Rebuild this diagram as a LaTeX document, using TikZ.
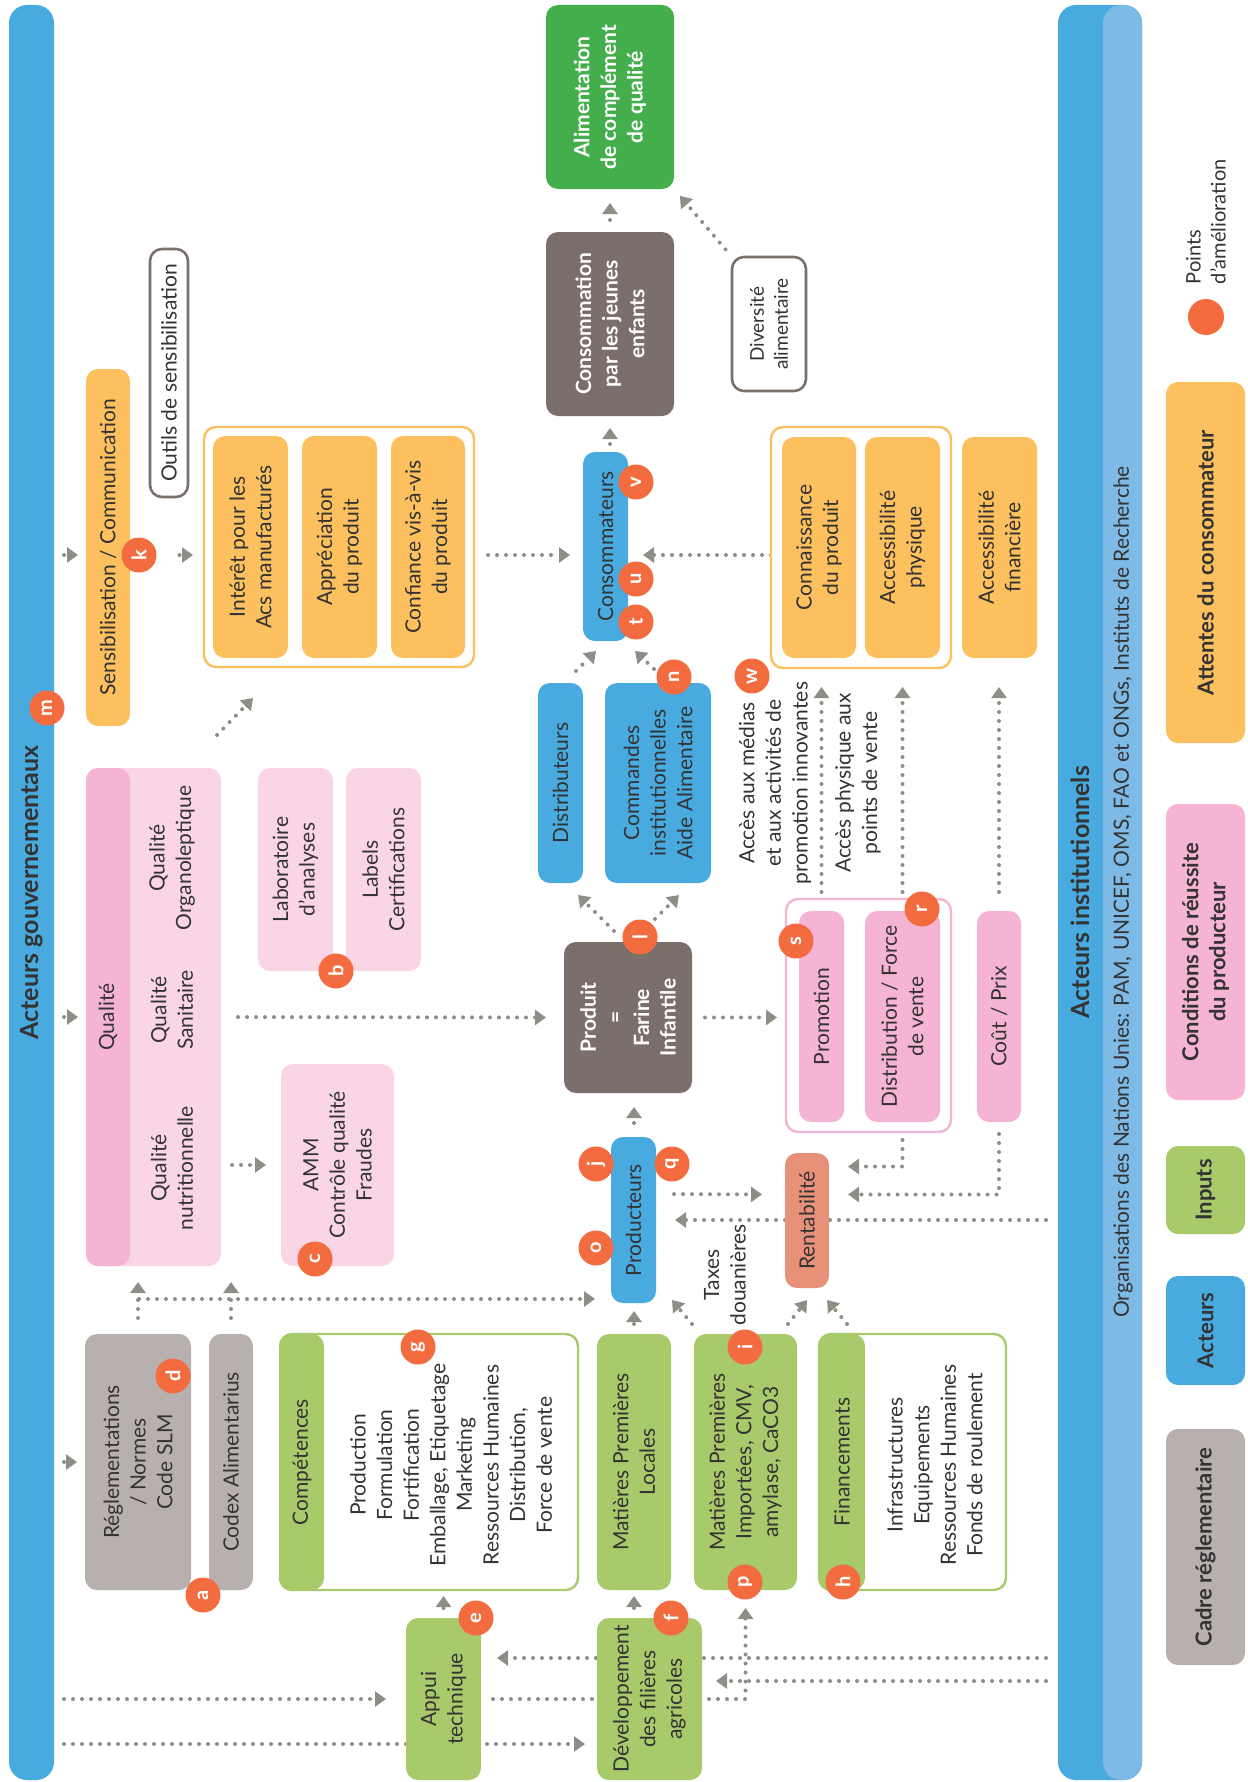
\documentclass[tikz,border=0pt]{standalone}
\usepackage{fontspec}
\setmainfont{Lato}
\usetikzlibrary{arrows.meta}

\definecolor{ink}{HTML}{333333}
\definecolor{cblue}{HTML}{49AADF}
\definecolor{clight}{HTML}{7EBAE6}
\definecolor{cgray}{HTML}{B8B0AE}
\definecolor{cdark}{HTML}{7A6F6B}
\definecolor{cgreen}{HTML}{A8CA6B}
\definecolor{cdgreen}{HTML}{44AE4C}
\definecolor{cpink}{HTML}{F5B4D3}
\definecolor{clpink}{HTML}{FAD5E6}
\definecolor{cyellow}{HTML}{FCC05F}
\definecolor{corange}{HTML}{F26C40}
\definecolor{csalmon}{HTML}{E8917A}
\definecolor{cline}{HTML}{7A706C}
\definecolor{carrow}{HTML}{8E8D86}

\newcommand\bodyfont{\fontsize{10.5}{13.3}\selectfont}
\newcommand\headfont{\fontsize{12.5}{15}\selectfont\bfseries}
\newcommand\legfont{\fontsize{11}{13.5}\selectfont\bfseries}
\newcommand\spotfont{\fontsize{10}{12}\selectfont\bfseries}

\pgfdeclarelayer{back}
\pgfsetlayers{back,main}

% box from its corners (x1,y1)-(x2,y2), text turned upwards
\newcommand\bx[7]{%
  \pgfmathsetmacro\bxw{(#5-#3)/2}%
  \pgfmathsetmacro\bxh{(#4-#2)/2}%
  \node[#6, rotate=90, minimum width=\bxw pt, minimum height=\bxh pt]
    (#1) at ({(#2+#4)/2},{(#3+#5)/2}) {#7};}

\begin{document}
\begin{tikzpicture}[x=0.5pt, y=-0.5pt, line cap=round, line join=round,
    >={Triangle[length=5.5pt, width=7.5pt]},
    every node/.style={text=ink, inner sep=0pt, outer sep=0pt, align=center, font=\bodyfont},
    tile/.style={rounded corners=6pt},
    bluebox/.style={tile, fill=cblue},
    lightbox/.style={tile, fill=clight},
    graybox/.style={tile, fill=cgray},
    darkbox/.style={tile, fill=cdark, text=white, font=\bodyfont\bfseries},
    greenbox/.style={tile, fill=cgreen},
    dgreenbox/.style={tile, fill=cdgreen, text=white, font=\bodyfont\bfseries},
    pinkbox/.style={tile, fill=cpink},
    lpinkbox/.style={tile, fill=clpink},
    yellowbox/.style={tile, fill=cyellow},
    salmonbox/.style={tile, fill=csalmon},
    grpbox/.style={tile, fill=white, line width=1.2pt},
    linebox/.style={tile, fill=white, draw=cline, line width=1.3pt},
    spot/.style={circle, fill=corange, text=white, font=\spotfont, minimum size=17.5pt, rotate=90},
    dotarr/.style={draw=carrow, line width=2pt, line cap=round, dash pattern=on 0pt off 4.5pt,
      ->, shorten <=6pt, shorten >=6pt}]

\useasboundingbox (0,0) rectangle (1247,1782);

% side bars
\bx{govbar}{9}{5}{54}{1780}{bluebox, rounded corners=9pt, font=\headfont}{Acteurs gouvernementaux}
\bx{instdark}{1058}{5}{1142}{1780}{bluebox, rounded corners=9pt}{}
\bx{instlight}{1103}{5}{1142}{1780}{lightbox, rounded corners=9pt}{}
\node[rotate=90, font=\headfont] (insttitle) at (1080,892) {Acteurs institutionnels};
\node[rotate=90] (instorgs) at (1123,892) {Organisations des Nations Unies: PAM, UNICEF, OMS, FAO et ONGs, Instituts de Recherche};

% legend
\bx{legyellow}{1166}{382}{1245}{743}{yellowbox, font=\legfont}{Attentes du consommateur}
\bx{legpink}{1166}{804}{1245}{1100}{pinkbox, font=\legfont}{Conditions de réussite\\du producteur}
\bx{leggreen}{1166}{1146}{1245}{1234}{greenbox, font=\legfont}{Inputs}
\bx{legblue}{1166}{1276}{1245}{1385}{bluebox, font=\legfont}{Acteurs}
\bx{leggray}{1166}{1429}{1245}{1665}{graybox, font=\legfont}{Cadre réglementaire}
\node[spot, minimum size=18pt] (legspot) at (1206,317) {};
\node[rotate=90, anchor=west, align=left, font=\fontsize{10}{12.5}\selectfont] (legnote) at (1206,284) {Points\\d'amélioration};

% inputs and rules
\bx{regl}{85}{1334}{191}{1590}{graybox}{Réglementations\\/ Normes\\Code SLM}
\bx{codex}{209}{1334}{253}{1590}{graybox}{Codex Alimentarius}
\bx{comp}{280}{1334}{578}{1590}{grpbox, draw=cgreen}{}
\bx{compstrip}{280}{1334}{324}{1590}{greenbox}{Compétences}
\node[rotate=90] (complist) at (451,1465) {Production\\Formulation\\Fortification\\Emballage, Etiquetage\\Marketing\\Ressources Humaines\\Distribution,\\Force de vente};
\bx{locales}{597}{1334}{671}{1590}{greenbox}{Matières Premières\\Locales}
\bx{import}{694}{1334}{797}{1590}{greenbox}{Matières Premières\\Importées, CMV,\\amylase, CaCO3}
\bx{fin}{819}{1334}{1006}{1590}{grpbox, draw=cgreen}{}
\bx{finstrip}{819}{1334}{865}{1590}{greenbox}{Financements}
\node[rotate=90] (finlist) at (935,1465) {Infrastructures\\Equipements\\Ressources Humaines\\Fonds de roulement};
\bx{appui}{406}{1618}{481}{1780}{greenbox}{Appui\\technique}
\bx{dev}{597}{1618}{702}{1780}{greenbox}{Développement\\des filières\\agricoles}

% quality
\bx{qual}{86}{768}{221}{1266}{lpinkbox}{}
\bx{qualstrip}{86}{768}{130}{1266}{pinkbox}{Qualité}
\node[rotate=90] (qnut) at (172,1168) {Qualité\\nutritionnelle};
\node[rotate=90] (qsan) at (172,1010) {Qualité\\Sanitaire};
\node[rotate=90] (qorg) at (172,858) {Qualité\\Organoleptique};
\bx{labo}{258}{768}{333}{971}{lpinkbox}{Laboratoire\\d'analyses}
\bx{labels}{346}{768}{421}{971}{lpinkbox}{Labels\\Certifications}
\bx{amm}{281}{1064}{394}{1266}{lpinkbox}{AMM\\Contrôle qualité\\Fraudes}

% communication
\bx{sensib}{86}{369}{130}{726}{yellowbox}{Sensibilisation / Communication}
\bx{outils}{150}{249}{188}{497}{linebox}{Outils de sensibilisation}
\bx{grpL}{204}{427}{474}{667}{grpbox, draw=cyellow}{}
\bx{interet}{213}{436}{288}{658}{yellowbox}{Intérêt pour les\\Acs manufacturés}
\bx{apprec}{302}{436}{377}{658}{yellowbox}{Appréciation\\du produit}
\bx{confiance}{391}{436}{465}{658}{yellowbox}{Confiance vis-à-vis\\du produit}

% product and actors
\bx{prod}{564}{942}{692}{1093}{darkbox}{Produit\\=\\Farine\\Infantile}
\bx{distrib}{538}{683}{583}{883}{bluebox}{Distributeurs}
\bx{command}{605}{683}{711}{883}{bluebox}{Commandes\\institutionnelles\\Aide Alimentaire}
\bx{conso}{583}{452}{628}{641}{bluebox}{Consommateurs}
\bx{consoenf}{546}{232}{674}{416}{darkbox}{Consommation\\par les jeunes\\enfants}
\bx{alim}{546}{5}{674}{189}{dgreenbox}{Alimentation\\de complément\\de qualité}
\bx{divers}{732}{257}{806}{391}{linebox, font=\fontsize{9.5}{12}\selectfont}{Diversité\\alimentaire}
\bx{producteurs}{611}{1137}{656}{1303}{bluebox}{Producteurs}
\bx{rentab}{785}{1153}{829}{1288}{salmonbox}{Rentabilité}

% conditions and expectations
\bx{grpP}{786}{899}{951}{1132}{grpbox, draw=cpink}{}
\bx{promo}{799}{911}{844}{1122}{pinkbox}{Promotion}
\bx{distforce}{865}{911}{940}{1122}{pinkbox}{Distribution / Force\\de vente}
\bx{cout}{977}{911}{1021}{1122}{pinkbox}{Coût / Prix}
\bx{grpR}{771}{427}{951}{668}{grpbox, draw=cyellow}{}
\bx{connais}{782}{437}{856}{658}{yellowbox}{Connaissance\\du produit}
\bx{accphys}{865}{437}{940}{658}{yellowbox}{Accessibilité\\physique}
\bx{accfin}{962}{437}{1037}{658}{yellowbox}{Accessibilité\\financière}

\node[rotate=90] (medias) at (775,783) {Accès aux médias\\et aux activités de\\promotion innovantes};
\node[rotate=90] (physnote) at (858,783) {Accès physique aux\\points de vente};
\node[rotate=90] (taxes) at (725,1275) {Taxes\\douanières};

% points d'amelioration
\foreach \n/\x/\y in {a/203/1595, b/336/971, c/315/1259, d/173/1376, e/476/1618,
    f/671/1618, g/418/1347, h/843/1582, i/745/1347, j/596/1164, k/139/555,
    l/640/937, m/47/708, n/674/677, o/596/1248, p/745/1582, q/672/1164,
    r/922/909, s/796/941, t/636/622, u/636/579, v/636/482, w/752/676}
  \node[spot] (\n) at (\x,\y) {\n};

\begin{pgfonlayer}{back}
  \coordinate (junc) at (139,1299);
  \coordinate (lowrow) at (0,1744);
  \coordinate (approw) at (0,1658);
  \coordinate (devrow) at (0,1681);

  \draw[dotarr, shorten <=5pt, shorten >=4pt] (govbar.south |- k) -- (sensib.north |- k);
  \draw[dotarr, shorten <=5pt, shorten >=4pt] (govbar.south |- qual) -- (qual.north);
  \draw[dotarr, shorten <=5pt, shorten >=4pt] (govbar.south |- regl) -- (regl.north);
  \draw[dotarr, shorten <=11.5pt, shorten >=5.5pt] (k) -- (k -| grpL.north);
  \draw[dotarr, shorten <=7pt, shorten >=6.5pt] (grpL.south |- k) -- (k -| conso.north);
  \draw[dotarr, shorten <=0pt, shorten >=7.5pt] (grpR.north |- k) -- (k -| conso.south);
  \draw[dotarr, shorten <=4pt] (conso.east -| consoenf.center) -- (consoenf.west);
  \draw[dotarr, shorten >=7pt] (consoenf.east) -- (alim.west);
  \draw[dotarr, shorten <=5pt, shorten >=4.5pt] (divers.north east) -- (alim.south west);
  \draw[dotarr, shorten <=0pt, shorten >=0pt] ([shift={(-4,-33)}]qual.south east) -- ([shift={(49,31)}]grpL.north west);

  \draw[dotarr, shorten <=8.5pt, shorten >=9pt] (qual.south) -- (prod.north);
  \draw[dotarr, shorten <=5.5pt, shorten >=7.5pt] (qual.south |- amm) -- (amm.north);
  \draw[dotarr, shorten <=8pt, shorten >=8pt] (regl.east) -- (regl.east |- qual.west);
  \draw[dotarr, shorten <=8pt, shorten >=8pt] (codex.east) -- (codex.east |- qual.west);
  \draw[dotarr, shorten <=0pt, shorten >=8pt] (junc) -- (junc -| producteurs.north);

  \draw[dotarr, shorten <=7pt, shorten >=7pt] (producteurs.east -| locales.center) -- (locales.center |- prod.west);
  \draw[dotarr, shorten <=5pt, shorten >=4pt] (locales.east) -- (locales.east |- producteurs.west);
  \draw[dotarr, shorten <=0pt, shorten >=0pt] ([shift={(-2,-10)}]import.north east) -- ([shift={(16,-3)}]producteurs.south west);
  \draw[dotarr, shorten <=0pt, shorten >=0pt] ([shift={(-9,-10)}]import.south east) -- ([shift={(22,12)}]rentab.north west);
  \draw[dotarr, shorten <=0pt, shorten >=0pt] ([shift={(28,-10)}]fin.north east) -- ([shift={(-2,12)}]rentab.south west);
  \draw[dotarr, shorten <=9pt, shorten >=11.5pt] ([shift={(0,-26)}]producteurs.south) -- ([shift={(0,-26)}]rentab.north);
  \draw[dotarr, shorten <=6pt, shorten >=9.5pt] (instdark.north |- producteurs) -- (producteurs.south);
  \draw[dotarr, shorten <=4pt, shorten >=9.5pt] (grpP.west -| distforce.center) |- ([shift={(0,-54)}]rentab.south);
  \draw[dotarr, shorten <=6pt, shorten >=9.5pt] (cout.west) |- ([shift={(0,-26)}]rentab.south);

  \draw[dotarr, shorten <=6.5pt, shorten >=4.5pt] (prod.south) -- (prod.south -| grpP.north);
  \draw[dotarr, shorten <=0pt, shorten >=0pt] ([shift={(-14,-11)}]prod.east) -- ([shift={(17.5,12)}]distrib.west);
  \draw[dotarr, shorten <=0pt, shorten >=0pt] ([shift={(27,-23)}]prod.east) -- ([shift={(21,12)}]command.west);
  \draw[dotarr, shorten <=0pt, shorten >=0pt] ([shift={(15.5,-12)}]distrib.east) -- ([shift={(-9.5,10)}]conso.west);
  \draw[dotarr, shorten <=0pt, shorten >=0pt] ([shift={(-4,-14)}]command.east) -- ([shift={(29.5,10)}]conso.west);

  \draw[dotarr, shorten <=3.5pt, shorten >=9.5pt] (grpP.east -| promo.center) -- (promo.center |- grpR.west);
  \draw[dotarr, shorten <=3.5pt, shorten >=9.5pt] (grpP.east -| distforce.center) -- (distforce.center |- grpR.west);
  \draw[dotarr, shorten <=9.5pt, shorten >=14.5pt] (cout.east) -- (cout.east |- accfin.west);

  \draw[dotarr, shorten <=5pt, shorten >=3pt] (appui.east) -- (appui.east |- comp.west);
  \draw[dotarr, shorten <=5pt, shorten >=3pt] (locales.center |- dev.east) -- (locales.west);
  \draw[dotarr, shorten <=6pt, shorten >=9pt] (appui.south) -| (import.west);
  \draw[dotarr, shorten <=5pt, shorten >=10pt] (govbar.south |- appui) -- (appui.north);
  \draw[dotarr, shorten <=5pt, shorten >=6pt] (govbar.south |- lowrow) -- (dev.north |- lowrow);
  \draw[dotarr, shorten <=6pt, shorten >=8pt] (instdark.north |- approw) -- (appui.south |- approw);
  \draw[dotarr, shorten <=6pt, shorten >=7pt] (instdark.north |- devrow) -- (dev.south |- devrow);
\end{pgfonlayer}
\end{tikzpicture}
\end{document}
